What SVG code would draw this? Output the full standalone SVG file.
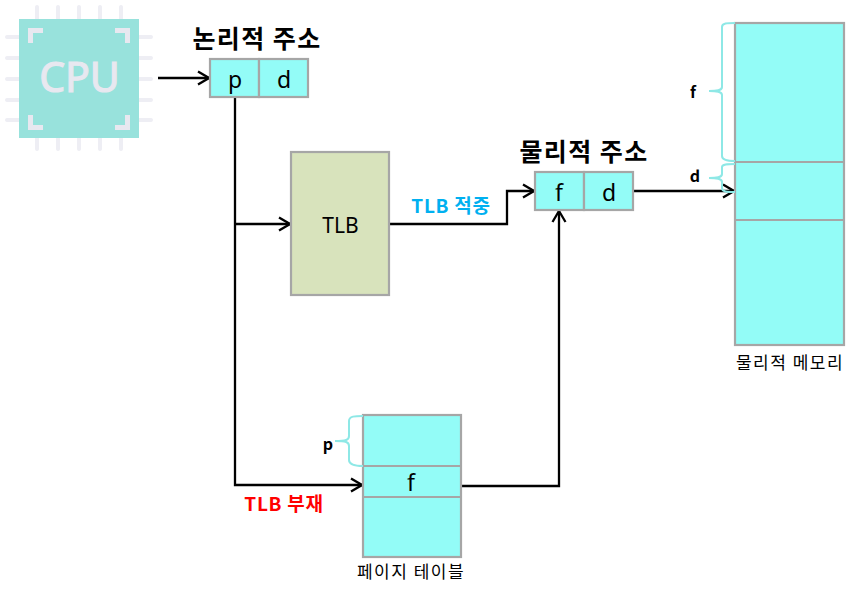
<svg xmlns="http://www.w3.org/2000/svg" width="865" height="593" viewBox="0 0 865 593">
<style>
.box{fill:#93fcf7;stroke:#a6a6a6;stroke-width:2.200}
.tlb{fill:#d8e3bc;stroke:#a6a6a6;stroke-width:2.200}
.conn{fill:none;stroke:#000;stroke-width:2.300}
.brace{fill:none;stroke:#8ee8e6;stroke-width:2}
.pin{stroke:#eeeef4;stroke-width:4;stroke-linecap:round}
.corner{fill:none;stroke:#e8e8f0;stroke-width:5}
text{font-family:"Noto Sans CJK KR","Noto Sans",sans-serif;text-anchor:middle}
.cell{font-family:"Noto Sans","Noto Sans CJK KR",sans-serif;font-size:23px;fill:#000}
.title{font-size:25px;font-weight:700;fill:#000;letter-spacing:1.400px}
.small{font-size:17px;fill:#000;letter-spacing:1.500px}
.b{font-size:16px;font-weight:700;fill:#000}
.lab{font-size:19px;font-weight:700;letter-spacing:.7px}
</style>
<defs>
<marker id="arr" markerUnits="userSpaceOnUse" markerWidth="14" markerHeight="16" refX="12" refY="8" orient="auto">
<path d="M1 1.500L12 8L1 14.500" fill="none" stroke="#000" stroke-width="2.300"/>
</marker>
</defs>
<g id="cpu">
<path class="pin" d="M37 7V149M58 7V149M79 7V149M100 7V149M121 7V149M7 37H151M7 58H151M7 79H151M7 100H151M7 120H151"/>
<rect x="19" y="19" width="120" height="119" fill="#98e2dc"/>
<path class="corner" d="M43 30.500H30.500V43M115 30.500H127.500V43M30.500 115V127.500H43M127.500 115V127.500H115"/>
<text x="79.500" y="92" font-size="41" style="font-family:'Noto Sans',sans-serif" fill="#e8e8f0" stroke="#e8e8f0" stroke-width="1.200">CPU</text>
</g>
<g id="connectors">
<path class="conn" d="M158 78H209" marker-end="url(#arr)"/>
<path class="conn" d="M235 97V485H362" marker-end="url(#arr)"/>
<path class="conn" d="M235 224H290" marker-end="url(#arr)"/>
<path class="conn" d="M389 224H507V191H534" marker-end="url(#arr)"/>
<path class="conn" d="M461 486H559V211" marker-end="url(#arr)"/>
<path class="conn" d="M633 191H734" marker-end="url(#arr)"/>
</g>
<g id="logical-address">
<rect class="box" x="210" y="59" width="49" height="38"/>
<rect class="box" x="259" y="59" width="49" height="38"/>
<text class="cell" x="235" y="88">p</text>
<text class="cell" x="284" y="88">d</text>
<text class="title" x="257" y="48">논리적 주소</text>
</g>
<g id="tlb">
<rect class="tlb" x="291" y="152" width="98" height="143"/>
<text class="cell" x="340.500" y="233" style="font-size:21px">TLB</text>
</g>
<g id="physical-address">
<rect class="box" x="535" y="172" width="49" height="38"/>
<rect class="box" x="584" y="172" width="49" height="38"/>
<text class="cell" x="559" y="201">f</text>
<text class="cell" x="609" y="201">d</text>
<text class="title" x="584" y="161">물리적 주소</text>
</g>
<g id="tlb-hit"><text class="lab" x="451" y="213" fill="#00b0f0">TLB 적중</text></g>
<g id="tlb-miss"><text class="lab" x="284" y="511" fill="#ff0000">TLB 부재</text></g>
<g id="page-table">
<rect class="box" x="363" y="415" width="98" height="142"/>
<path class="box" d="M363 466H461M363 497H461"/>
<path class="brace" d="M363 416C355 416 349 416 349 421V436C349 440 346 441 335 441C346 441 349 442 349 446V460C349 465 355 466 363 466"/>
<text class="cell" x="411" y="491">f</text>
<text class="b" x="328" y="450">p</text>
<text class="small" x="411" y="578">페이지 테이블</text>
</g>
<g id="physical-memory">
<rect class="box" x="735" y="23" width="109" height="322"/>
<path class="box" d="M735 162H844M735 220H844"/>
<path class="brace" d="M735 23C727 23 722 23 722 27V87C722 90 719 91 709 91C719 91 722 92 722 95V156C722 160 727 161 735 161"/>
<path class="brace" d="M735 164C727 164 722 164 722 167V174C722 177 719 178 709 178C719 178 722 179 722 182V188C722 192 727 192 735 192"/>
<text class="b" x="693" y="98">f</text>
<text class="b" x="695" y="182">d</text>
<text class="small" x="790" y="369">물리적 메모리</text>
</g>
</svg>
